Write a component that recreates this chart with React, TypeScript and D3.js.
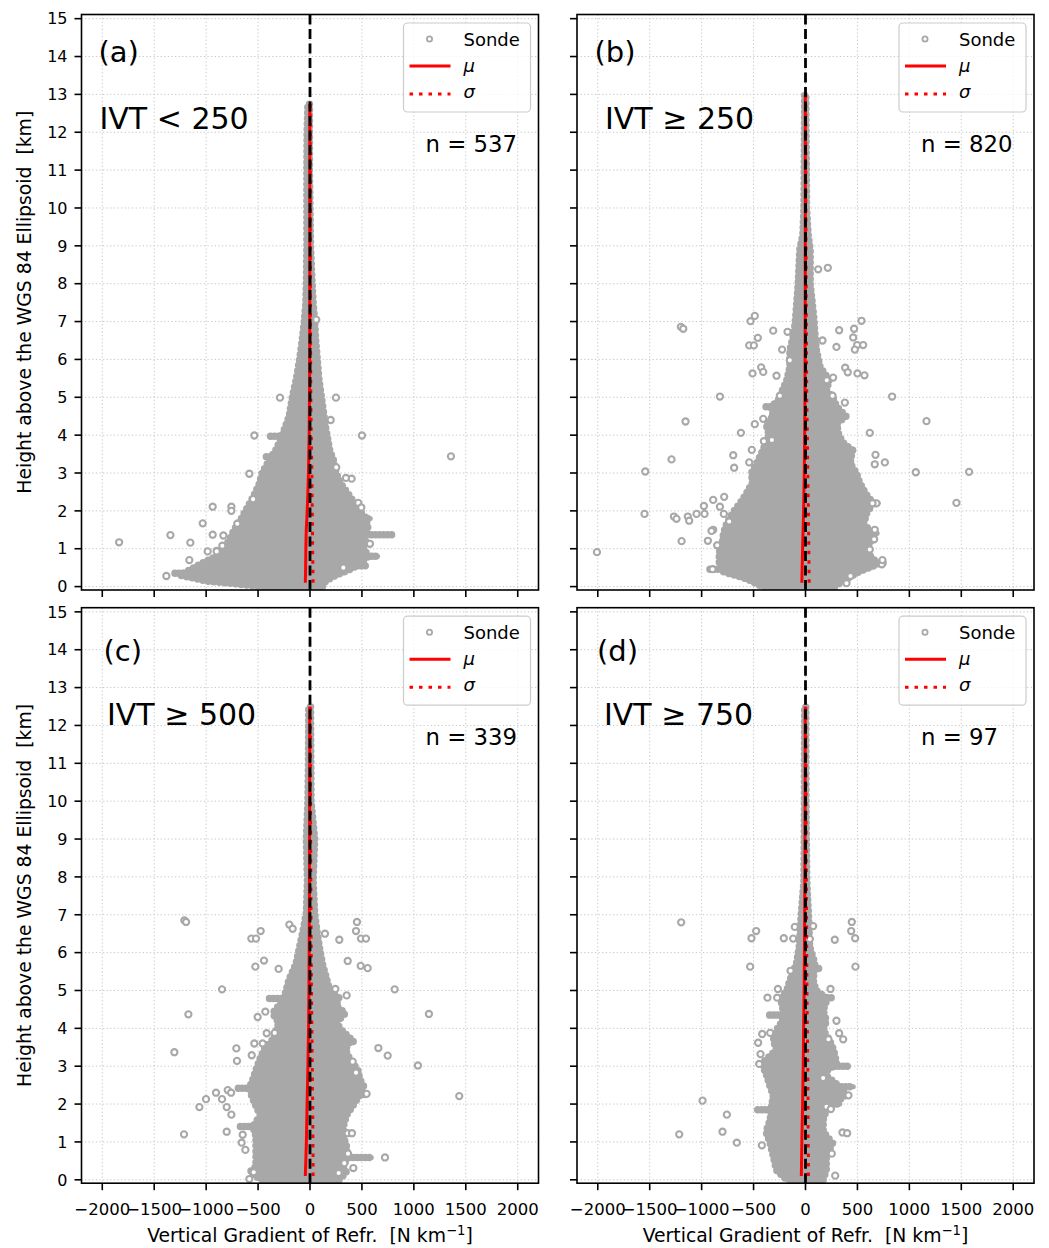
import React from 'react';
import * as d3 from 'd3';

// ---------- data ----------
const xTicks = [-2000, -1500, -1000, -500, 0, 500, 1000, 1500, 2000];
const yTicks = [0, 1, 2, 3, 4, 5, 6, 7, 8, 9, 10, 11, 12, 13, 14, 15];
const panelLabels = ['(a)', '(b)', '(c)', '(d)'];
const ivtLabels = ['IVT < 250', 'IVT ≥ 250', 'IVT ≥ 500', 'IVT ≥ 750'];
const sampleCounts = [537, 820, 339, 97];
const legendLabels = ['Sonde', 'μ', 'σ'];

// dense sonde cloud envelope: [height km, left, right]
const cloudA = [
  [0.0, -450, 120], [0.15, -1000, 150], [0.3, -1250, 250], [0.45, -1150, 380], [0.6, -1050, 480],
  [0.8, -900, 560], [1.0, -850, 520], [1.2, -780, 500], [1.5, -730, 560], [1.8, -660, 540],
  [2.1, -600, 450], [2.4, -540, 380], [2.7, -490, 300], [3.0, -460, 250], [3.3, -400, 230],
  [3.6, -330, 190], [3.9, -280, 170], [4.2, -240, 150], [4.5, -200, 135], [5.0, -170, 110],
  [5.5, -130, 85], [6.0, -100, 70], [6.5, -75, 55], [7.0, -55, 45], [7.5, -40, 30],
  [8.0, -35, 20], [9.0, -30, 5], [10.0, -30, 0], [11.0, -30, -5], [12.0, -28, -5], [12.75, -20, -5],
];
const cloudB = [
  [0.0, -420, 280], [0.2, -560, 390], [0.4, -800, 520], [0.6, -830, 700], [0.9, -830, 590],
  [1.15, -800, 620], [1.4, -790, 650], [1.65, -760, 560], [1.95, -700, 590], [2.2, -630, 650],
  [2.45, -570, 580], [2.75, -510, 520], [3.0, -520, 490], [3.25, -470, 430], [3.6, -410, 450],
  [3.8, -380, 360], [4.0, -350, 320], [4.3, -380, 300], [4.5, -310, 390], [4.75, -330, 300],
  [4.95, -250, 270], [5.2, -220, 200], [5.45, -180, 230], [5.8, -150, 140], [6.25, -150, 105],
  [6.7, -110, 90], [7.1, -95, 80], [8.0, -70, 45], [8.9, -55, 45], [9.3, -25, 25],
  [10.0, -15, 10], [11.0, -12, 8], [12.0, -10, 5], [13.0, -8, 3],
];
const cloudC = [
  [0.0, -470, 280], [0.2, -580, 350], [0.35, -520, 320], [0.6, -520, 360], [0.9, -520, 350],
  [1.15, -520, 320], [1.4, -550, 320], [1.7, -480, 350], [1.95, -520, 410], [2.2, -560, 470],
  [2.45, -580, 520], [2.65, -550, 480], [2.9, -520, 460], [3.2, -480, 380], [3.45, -440, 340],
  [3.7, -360, 400], [3.9, -330, 320], [4.15, -300, 250], [4.4, -360, 340], [4.6, -300, 250],
  [4.8, -250, 280], [5.0, -230, 190], [5.3, -200, 160], [5.7, -135, 120], [6.15, -100, 90],
  [6.6, -65, 65], [7.05, -35, 45], [7.9, -25, 30], [9.0, -35, 45], [10.0, -20, 10],
  [11.0, -15, 8], [12.5, -12, 5],
];
const cloudD = [
  [0.0, -180, 170], [0.26, -280, 200], [0.62, -310, 200], [0.97, -340, 260], [1.27, -380, 170],
  [1.58, -340, 170], [1.85, -330, 200], [2.24, -310, 390], [2.46, -340, 330], [2.81, -380, 170],
  [3.07, -420, 300], [3.43, -280, 270], [3.69, -310, 230], [3.95, -280, 170], [4.2, -220, 200],
  [4.48, -215, 170], [4.79, -240, 210], [5.0, -180, 100], [5.27, -150, 74], [5.71, -87, 90],
  [6.15, -60, 40], [7.03, -40, 28], [7.9, -15, 12], [9.0, -12, 8], [10.0, -10, 5],
  [11.0, -10, 4], [12.5, -8, 3],
];

// horizontal streaks of overlapping sonde points: [height km, from, to]
const streaksA = [
  [1.37, 400, 790], [0.8, 400, 650], [0.55, 300, 540], [3.97, -380, -100], [3.43, -420, -200],
  [1.8, 400, 580], [2.2, 300, 460], [0.35, -1300, -900], [0.95, -900, -700], [1.17, 350, 560],
];
const streaksB = [
  [0.46, -920, -500], [0.62, 400, 750], [2.2, 400, 700], [1.41, 400, 690], [4.75, -380, -200],
  [1.09, -850, -600], [3.6, 300, 460],
];
const streaksC = [
  [0.59, 300, 590], [1.41, -670, -450], [2.42, -690, -500], [4.79, -390, -230], [3.65, 300, 420],
  [2.25, 300, 545],
];
const streaksD = [
  [1.85, -460, -300], [4.35, -345, -230], [3.0, 170, 410], [2.46, 270, 460], [4.81, 170, 250],
  [5.58, 10, 130], [2.0, 150, 330],
];

// isolated sonde points: [gradient, height km]
const outliersA = [
  [-289, 4.99], [250, 4.99], [199, 4.4], [-536, 3.99], [500, 3.99], [1357, 3.44], [-584, 2.98],
  [253, 3.15], [401, 2.85], [346, 2.87], [-548, 2.31], [-937, 2.11], [-757, 2.11], [-757, 2.0],
  [-700, 1.66], [-1033, 1.67], [465, 2.21], [494, 2.09], [-1344, 1.36], [-1838, 1.17],
  [-1152, 1.16], [-985, 0.93], [-898, 0.93], [-844, 1.08], [-937, 1.37], [-834, 1.35],
  [-1383, 0.28], [-1162, 0.7], [577, 1.13], [321, 0.5], [60, 7.05],
];
const outliersB = [
  [122, 8.38], [215, 8.42], [-488, 7.15], [-529, 7.01], [539, 7.02], [-1200, 6.86], [-1177, 6.81],
  [-311, 6.76], [-173, 6.73], [324, 6.77], [468, 6.81], [-459, 6.57], [459, 6.58], [164, 6.5],
  [-542, 6.37], [-497, 6.37], [298, 6.33], [497, 6.38], [555, 6.38], [475, 6.26], [-225, 6.26],
  [-151, 5.98], [-427, 5.79], [-407, 5.67], [-510, 5.63], [-279, 5.57], [382, 5.78], [407, 5.66],
  [500, 5.63], [568, 5.58], [266, 5.52], [205, 5.45], [-824, 5.02], [834, 5.02], [-247, 5.04],
  [260, 5.04], [379, 4.86], [1165, 4.37], [-1155, 4.36], [-407, 4.43], [-488, 4.29], [619, 4.06],
  [-622, 4.06], [-401, 3.84], [-324, 3.87], [-1290, 3.36], [-696, 3.47], [-687, 3.14], [-542, 3.28],
  [-517, 3.61], [674, 3.48], [667, 3.23], [764, 3.28], [-1543, 3.04], [1062, 3.02], [1575, 3.03],
  [1453, 2.21], [-1550, 1.92], [-1267, 1.85], [-1242, 1.79], [-1133, 1.85], [-1120, 1.74],
  [-1049, 1.92], [-972, 1.92], [-978, 2.13], [-889, 2.29], [-824, 2.11], [-786, 1.92], [-783, 2.37],
  [-735, 1.72], [-889, 1.5], [-905, 1.47], [-940, 1.21], [-850, 1.09], [-1193, 1.2], [-2008, 0.91],
  [-895, 0.46], [667, 1.5], [661, 1.25], [735, 0.59], [741, 0.7], [433, 0.28], [395, 0.09],
  [683, 2.2], [645, 2.2], [619, 0.98],
];
const outliersC = [
  [-1210, 6.85], [-1193, 6.81], [-199, 6.74], [-167, 6.63], [-475, 6.57], [-565, 6.37], [-520, 6.37],
  [452, 6.81], [443, 6.57], [491, 6.37], [539, 6.37], [144, 6.5], [282, 6.34], [-443, 5.79],
  [-526, 5.63], [-302, 5.57], [363, 5.78], [488, 5.65], [555, 5.59], [-847, 5.03], [815, 5.03],
  [244, 5.04], [353, 4.87], [-1171, 4.37], [1145, 4.38], [-504, 4.3], [-430, 4.44], [-417, 3.87],
  [-340, 3.88], [-1306, 3.37], [-709, 3.47], [-703, 3.14], [-536, 3.6], [-456, 3.6], [-561, 3.29],
  [658, 3.48], [748, 3.28], [1039, 3.02], [1437, 2.21], [-905, 2.3], [-792, 2.37], [-760, 2.3],
  [-1001, 2.13], [-847, 2.13], [-1065, 1.92], [-802, 1.92], [-757, 1.72], [-1213, 1.2], [-802, 1.27],
  [-648, 1.19], [-658, 0.98], [-622, 0.79], [363, 1.23], [404, 1.23], [722, 0.59], [417, 0.31],
  [366, 0.69], [330, 0.44], [-542, 0.2], [-584, 0.02], [276, 0.18], [411, 3.12], [443, 2.83],
  [545, 2.27],
];
const outliersD = [
  [-1197, 6.8], [-475, 6.57], [-520, 6.38], [-209, 6.38], [-119, 6.37], [-103, 6.68], [74, 6.7],
  [446, 6.81], [440, 6.57], [478, 6.38], [282, 6.34], [42, 6.36], [-533, 5.63], [-144, 5.52],
  [481, 5.63], [241, 5.04], [-266, 5.04], [-366, 4.81], [-273, 4.81], [298, 4.2], [-417, 3.85],
  [-340, 3.88], [-456, 3.62], [-433, 3.32], [-446, 3.06], [324, 3.87], [363, 3.71], [221, 3.71],
  [-991, 2.09], [-757, 1.72], [-799, 1.27], [-1216, 1.2], [-661, 0.98], [-420, 0.91], [356, 1.25],
  [401, 1.23], [253, 0.69], [286, 0.11], [202, 1.93], [244, 1.87], [170, 2.69], [414, 2.23],
];

// mean (μ) and σ profiles: [height km, value]
const meanA = [[0.1, -45], [0.5, -42], [1.0, -40], [1.5, -36], [1.8, -30], [2.5, -20], [3.0, -15], [4.0, -8], [5.0, -5], [6.0, -3], [8.0, -2], [10.0, -2], [12.75, -2]];
const sigmaA = [[0.1, 30], [0.5, 28], [1.0, 25], [1.5, 24], [2.0, 22], [3.0, 18], [4.0, 12], [5.0, 8], [6.0, 6], [8.0, 4], [10.0, 3], [12.75, 2]];
const meanB = [[0.1, -35], [1.0, -28], [2.0, -18], [3.0, -12], [4.0, -8], [5.0, -5], [7.0, -3], [9.0, -2], [11.0, -2], [13.0, -2]];
const sigmaB = [[0.1, 35], [1.0, 32], [2.0, 28], [3.0, 22], [4.0, 18], [5.0, 12], [7.0, 8], [9.0, 5], [11.0, 3], [13.0, 2]];
const meanC = [[0.1, -45], [0.5, -40], [1.0, -35], [2.0, -28], [3.0, -20], [4.0, -14], [5.0, -10], [7.0, -6], [9.0, -4], [11.0, -3], [12.5, -3]];
const sigmaC = [[0.1, 30], [0.5, 30], [1.0, 28], [2.0, 26], [3.0, 22], [4.0, 18], [5.0, 14], [7.0, 10], [9.0, 6], [11.0, 4], [12.5, 3]];
const meanD = [[0.1, -40], [0.5, -38], [1.0, -35], [2.0, -28], [3.0, -22], [4.0, -18], [5.0, -13], [7.0, -8], [9.0, -5], [11.0, -3], [12.5, -3]];
const sigmaD = [[0.1, 28], [0.5, 28], [1.0, 26], [2.0, 24], [3.0, 22], [4.0, 18], [5.0, 14], [7.0, 10], [9.0, 6], [11.0, 4], [12.5, 3]];

const clouds = [cloudA, cloudB, cloudC, cloudD];
const streaks = [streaksA, streaksB, streaksC, streaksD];
const outliers = [outliersA, outliersB, outliersC, outliersD];
const means = [meanA, meanB, meanC, meanD];
const sigmas = [sigmaA, sigmaB, sigmaC, sigmaD];

// ---------- layout ----------
const W = 1049;
const H = 1248;
const PW = 457;
const PH = 575.5;
const layout = [
  { left: 81.5, top: 14.5, lab: [17, 47], ivt: [18, 114] },
  { left: 577, top: 14.5, lab: [17.5, 47], ivt: [28, 114] },
  { left: 81.5, top: 607.7, lab: [22, 53], ivt: [25.5, 117] },
  { left: 577, top: 607.7, lab: [20, 53], ivt: [27, 117] },
];
const FONT = 'DejaVu Sans, sans-serif';
const GRAY = '#a8a8a8';

function Panel({ i }) {
  const { left, top, lab, ivt } = layout[i];
  const x = d3.scaleLinear().domain([-2200, 2200]).range([left, left + PW]);
  const y = d3.scaleLinear().domain([-0.09, 15.11]).range([top + PH, top]);
  const bottom = top + PH;
  const right = left + PW;
  const showXLabels = i >= 2;
  const showYLabels = i % 2 === 0;

  const area = d3.area()
    .y((d) => y(d[0]))
    .x0((d) => x(d[1]))
    .x1((d) => x(d[2]))
    .curve(d3.curveLinear);
  const line = d3.line().x((d) => x(d[1])).y((d) => y(d[0]));

  const clipId = `clip${i}`;
  const lx = right - 135;
  const ly = top + 8.5;
  const cloudPath = area(clouds[i]);

  return (
    <g>
      <defs>
        <clipPath id={clipId}>
          <rect x={left} y={top} width={PW} height={PH} />
        </clipPath>
      </defs>
      {/* grid */}
      {xTicks.map((t) => (
        <line key={'gx' + t} x1={x(t)} x2={x(t)} y1={top} y2={bottom} stroke="#c4c4c4" strokeWidth={1} strokeDasharray="1.2,2.4" />
      ))}
      {yTicks.map((t) => (
        <line key={'gy' + t} x1={left} x2={right} y1={y(t)} y2={y(t)} stroke="#c4c4c4" strokeWidth={1} strokeDasharray="1.2,2.4" />
      ))}
      <g clipPath={`url(#${clipId})`}>
        <path d={cloudPath} fill={GRAY} stroke={GRAY} strokeWidth={3} strokeLinejoin="round" />
        <path d={cloudPath} fill="none" stroke={GRAY} strokeWidth={7.5} strokeLinecap="round" strokeDasharray="0,5.5" />
        {streaks[i].map((s, k) => (
          <line key={'s' + k} x1={x(s[1])} x2={x(s[2])} y1={y(s[0])} y2={y(s[0])} stroke={GRAY} strokeWidth={7.5} strokeLinecap="round" strokeDasharray="0,4" />
        ))}
        {streaks[i].map((s, k) => (
          <line key={'s2' + k} x1={x(s[1])} x2={x(s[2])} y1={y(s[0])} y2={y(s[0])} stroke={GRAY} strokeWidth={5} strokeLinecap="round" />
        ))}
        {outliers[i].map((p, k) => (
          <circle key={'o' + k} cx={x(p[0])} cy={y(p[1])} r={3.1} fill="white" stroke={GRAY} strokeWidth={2.1} />
        ))}
        <path d={line(means[i])} fill="none" stroke="#ff0000" strokeWidth={3} />
        <path d={line(sigmas[i])} fill="none" stroke="#ff0000" strokeWidth={3} strokeDasharray="3.5,6" />
        <line x1={x(0)} x2={x(0)} y1={top} y2={bottom} stroke="black" strokeWidth={2.8} strokeDasharray="10,4.5" />
      </g>
      {/* spines */}
      <rect x={left} y={top} width={PW} height={PH} fill="none" stroke="black" strokeWidth={1.6} />
      {/* ticks */}
      {xTicks.map((t) => (
        <g key={'tx' + t}>
          <line x1={x(t)} x2={x(t)} y1={bottom} y2={bottom + 7} stroke="black" strokeWidth={1.6} />
          {showXLabels && (
            <text x={x(t)} y={bottom + 32} textAnchor="middle" fontSize={16.5} fontFamily={FONT}>
              {t < 0 ? '−' + Math.abs(t) : String(t)}
            </text>
          )}
        </g>
      ))}
      {yTicks.map((t) => (
        <g key={'ty' + t}>
          <line x1={left - 7} x2={left} y1={y(t)} y2={y(t)} stroke="black" strokeWidth={1.6} />
          {showYLabels && (
            <text x={left - 14} y={y(t)} dy="0.36em" textAnchor="end" fontSize={16} fontFamily={FONT}>
              {t}
            </text>
          )}
        </g>
      ))}
      {/* annotations */}
      <text x={left + lab[0]} y={top + lab[1]} fontSize={29} fontFamily={FONT}>{panelLabels[i]}</text>
      <text x={left + ivt[0]} y={top + ivt[1]} fontSize={30} fontFamily={FONT}>{ivtLabels[i]}</text>
      <text x={left + 344} y={top + 137.5} fontSize={22.8} fontFamily={FONT}>{`n = ${sampleCounts[i]}`}</text>
      {/* legend */}
      <rect x={lx} y={ly} width={127} height={89} rx={4} ry={4} fill="white" fillOpacity={0.8} stroke="#cccccc" strokeWidth={1.2} />
      <circle cx={lx + 26} cy={ly + 16} r={2.6} fill="white" stroke={GRAY} strokeWidth={1.8} />
      <line x1={lx + 6} x2={lx + 47} y1={ly + 43} y2={ly + 43} stroke="#ff0000" strokeWidth={3} />
      <line x1={lx + 6} x2={lx + 47} y1={ly + 71} y2={ly + 71} stroke="#ff0000" strokeWidth={3} strokeDasharray="3.5,6" />
      <text x={lx + 60} y={ly + 23} fontSize={18} fontFamily={FONT}>{legendLabels[0]}</text>
      <text x={lx + 60} y={ly + 49} fontSize={18} fontFamily={FONT} fontStyle="italic">{legendLabels[1]}</text>
      <text x={lx + 60} y={ly + 75} fontSize={18} fontFamily={FONT} fontStyle="italic">{legendLabels[2]}</text>
    </g>
  );
}

export default function App() {
  const xLabelY = layout[2].top + PH + 59;
  return (
    <div style={{ position: 'absolute', left: 0, top: 0 }}>
      <svg width={W} height={H} viewBox={`0 0 ${W} ${H}`} style={{ display: 'block', background: 'white' }}>
        <rect x={0} y={0} width={W} height={H} fill="white" />
        {[0, 1, 2, 3].map((i) => <Panel key={i} i={i} />)}
        {[0, 2].map((i) => (
          <text key={'yl' + i} transform={`translate(31, ${layout[i].top + PH / 2}) rotate(-90)`} textAnchor="middle" fontSize={18.8} fontFamily={FONT} style={{ whiteSpace: 'pre' }}>
            {'Height above the WGS 84 Ellipsoid  [km]'}
          </text>
        ))}
        {[2, 3].map((i) => (
          <text key={'xl' + i} x={layout[i].left + PW / 2} y={xLabelY} textAnchor="middle" fontSize={18.8} fontFamily={FONT} style={{ whiteSpace: 'pre' }}>
            {'Vertical Gradient of Refr.  [N km'}
            <tspan dy={-7.5} fontSize={13.2}>−1</tspan>
            <tspan dy={7.5}>]</tspan>
          </text>
        ))}
      </svg>
    </div>
  );
}
